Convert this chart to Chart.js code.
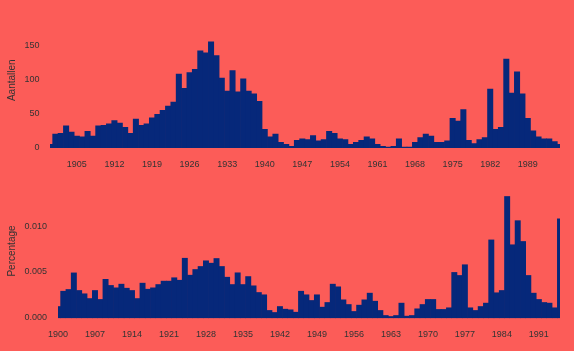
<!DOCTYPE html>
<html>
<head>
<meta charset="utf-8">
<script src="https://cdn.jsdelivr.net/npm/chart.js@4/dist/chart.umd.min.js"></script>
<style>
    html, body { margin: 0; padding: 0; background: #fc5c58; }
    #wrap { position: relative; width: 574px; height: 351px; }
    .box { position: absolute; left: 0; width: 574px; }
</style>
</head>
<body>
<div id="wrap">
    <div class="box" style="top:0;height:170px"><canvas id="aantallenChart" width="574" height="170"></canvas></div>
    <div class="box" style="top:170px;height:181px"><canvas id="percentageChart" width="574" height="181"></canvas></div>
</div>
<script>
const years = [1900, 1901, 1902, 1903, 1904, 1905, 1906, 1907, 1908, 1909,
    1910, 1911, 1912, 1913, 1914, 1915, 1916, 1917, 1918, 1919,
    1920, 1921, 1922, 1923, 1924, 1925, 1926, 1927, 1928, 1929,
    1930, 1931, 1932, 1933, 1934, 1935, 1936, 1937, 1938, 1939,
    1940, 1941, 1942, 1943, 1944, 1945, 1946, 1947, 1948, 1949,
    1950, 1951, 1952, 1953, 1954, 1955, 1956, 1957, 1958, 1959,
    1960, 1961, 1962, 1963, 1964, 1965, 1966, 1967, 1968, 1969,
    1970, 1971, 1972, 1973, 1974, 1975, 1976, 1977, 1978, 1979,
    1980, 1981, 1982, 1983, 1984, 1985, 1986, 1987, 1988, 1989,
    1990, 1991, 1992, 1993, 1994, 1995];

const aantallen = [5, 20, 21, 32, 23, 17, 16, 24, 17, 32,
    33, 35, 40, 36, 30, 21, 42, 33, 35, 44,
    49, 55, 61, 67, 108, 87, 110, 115, 142, 139,
    155, 135, 102, 83, 113, 82, 101, 83, 79, 68,
    27, 16, 20, 8, 5, 2, 11, 13, 12, 18,
    10, 12, 24, 21, 13, 12, 5, 8, 11, 16,
    13, 5, 2, 1, 2, 13, 1, 1, 8, 15,
    20, 17, 8, 8, 10, 43, 39, 56, 11, 6,
    12, 15, 86, 27, 30, 130, 80, 111, 79, 43,
    25, 16, 13, 13, 9, 5];

const percentage = [0.00123, 0.0029, 0.00309, 0.0049, 0.00298, 0.00262, 0.0021, 0.00298, 0.002, 0.0042,
    0.00353, 0.00327, 0.00367, 0.00323, 0.00298, 0.0021, 0.00378, 0.00312, 0.00327, 0.00363,
    0.004, 0.004, 0.00437, 0.0041, 0.0065, 0.00465, 0.00527, 0.0056, 0.00622, 0.00596,
    0.00647, 0.0056, 0.00443, 0.00363, 0.00491, 0.00363, 0.0045, 0.00349, 0.00276, 0.00251,
    0.0008, 0.00058, 0.00123, 0.00094, 0.00087, 0.00061, 0.0029, 0.00251, 0.00189, 0.00251,
    0.00116, 0.00167, 0.00367, 0.00338, 0.00196, 0.00145, 0.00069, 0.00138, 0.00196, 0.00269,
    0.00181, 0.0008, 0.00025, 0.00014, 0.00025, 0.0016, 0.00018, 0.00025, 0.00098, 0.00145,
    0.002, 0.002, 0.00091, 0.00091, 0.00109, 0.00495, 0.00462, 0.00579, 0.00109, 0.0008,
    0.00123, 0.0016, 0.0085, 0.00273, 0.00298, 0.01324, 0.00797, 0.0106, 0.00833, 0.00462,
    0.00269, 0.002, 0.00167, 0.0016, 0.00109, 0.0108];

const topXTicks = [1905, 1912, 1919, 1926, 1933, 1940, 1947, 1954, 1961, 1968, 1975, 1982, 1989];
const bottomXTicks = [1900, 1907, 1914, 1921, 1928, 1935, 1942, 1949, 1956, 1963, 1970, 1977, 1984, 1991];
const topYTicks = [0, 50, 100, 150];
const bottomYTicks = [0, 0.005, 0.01];

const BAR_COLOR = "#06287a";
const TEXT_COLOR = "#333333";
const FONT = "'Liberation Sans', Arial, sans-serif";

// drop the label padding chart.js reserves, so the plot area sits where the layout says
function noPadding(axis) {
    axis.paddingTop = 0;
    axis.paddingBottom = 0;
    axis.paddingLeft = 0;
    axis.paddingRight = 0;
}

function barChart(canvasId, values, opts) {
    return new Chart(document.getElementById(canvasId), {
        type: 'bar',
        data: {
            datasets: [{
                data: years.map((yr, i) => ({x: yr, y: values[i]})),
                backgroundColor: BAR_COLOR,
                borderWidth: 0,
                barPercentage: 1,
                categoryPercentage: 1
            }]
        },
        options: {
            responsive: false,
            animation: false,
            layout: {padding: {top: opts.padTop, right: 14, left: 0, bottom: 0}},
            plugins: {legend: {display: false}, tooltip: {enabled: false}},
            scales: {
                x: {
                    type: 'linear',
                    offset: false,
                    min: 1900,
                    max: 1995,
                    grid: {display: false, drawTicks: false, offset: false},
                    border: {display: false},
                    afterBuildTicks: axis => { axis.ticks = opts.xTicks.map(v => ({value: v})); },
                    afterFit: axis => { axis.height = opts.xHeight; noPadding(axis); },
                    ticks: {
                        autoSkip: false,
                        maxRotation: 0,
                        padding: 7,
                        color: TEXT_COLOR,
                        font: {family: FONT, size: 9},
                        callback: v => String(v)
                    }
                },
                y: {
                    min: opts.yMin,
                    max: opts.yMax,
                    grid: {display: false, drawTicks: false},
                    border: {display: false},
                    afterBuildTicks: axis => { axis.ticks = opts.yTicks.map(v => ({value: v})); },
                    afterFit: axis => { axis.width = opts.yWidth; noPadding(axis); },
                    ticks: {
                        padding: opts.yPad,
                        color: TEXT_COLOR,
                        font: {family: FONT, size: 9},
                        callback: opts.yFormat
                    },
                    title: {
                        display: true,
                        text: opts.title,
                        color: TEXT_COLOR,
                        font: {family: FONT, size: 10},
                        padding: {top: 6, bottom: 0}
                    }
                }
            }
        }
    });
}

let aantallenChart = barChart("aantallenChart", aantallen, {
    padTop: 8, xHeight: 17.5, yWidth: 50, yPad: 10.5,
    yMin: -6.9, yMax: 204.6,
    xTicks: topXTicks, yTicks: topYTicks,
    yFormat: v => String(v),
    title: "Aantallen"
});

let percentageChart = barChart("percentageChart", percentage, {
    padTop: 10, xHeight: 29, yWidth: 58, yPad: 11,
    yMin: -0.00046, yMax: 0.01504,
    xTicks: bottomXTicks, yTicks: bottomYTicks,
    yFormat: v => v.toFixed(3),
    title: "Percentage"
});
</script>
</body>
</html>
